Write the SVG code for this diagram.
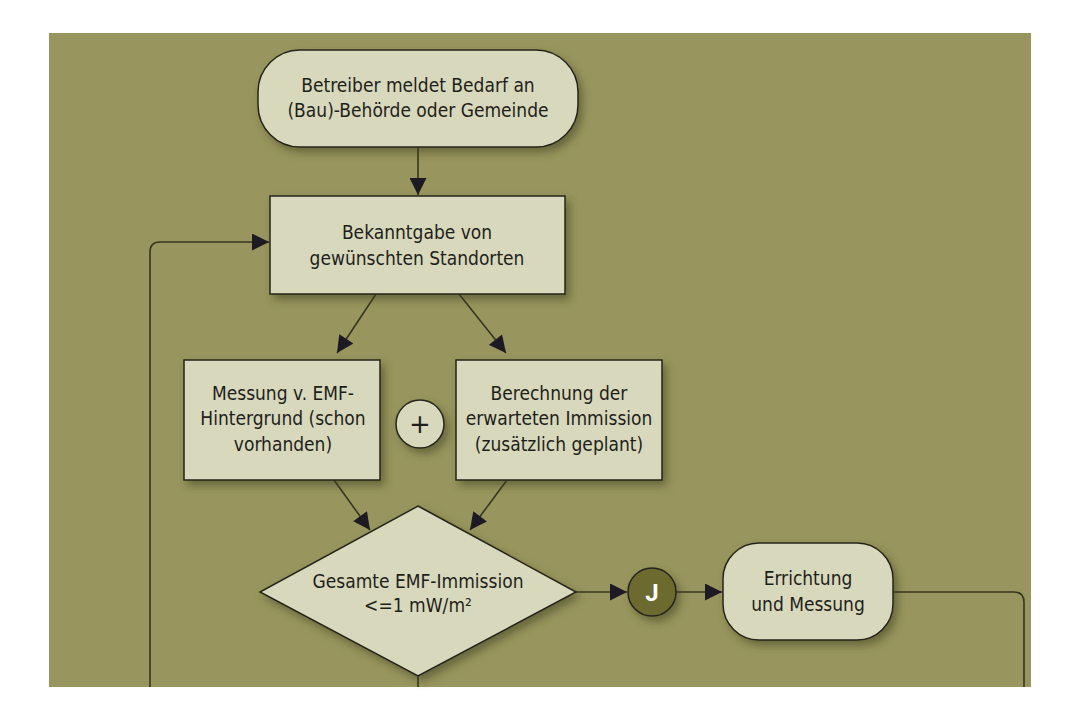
<svg xmlns="http://www.w3.org/2000/svg" width="1080" height="720" viewBox="0 0 1080 720">
<style>
.box{fill:#d8d8bd;stroke:#25241a;stroke-width:1.5;filter:url(#sh)}
.t{font-family:"DejaVu Sans Condensed","DejaVu Sans",sans-serif;font-stretch:condensed;font-size:19px;fill:#1f1f1a;text-anchor:middle}
.c{fill:none;stroke:#37361f;stroke-width:1.6}
</style>
<defs>
<filter id="sh" x="-20%" y="-20%" width="150%" height="150%">
<feDropShadow dx="4" dy="5" stdDeviation="4" flood-color="#3d3c1c" flood-opacity="0.55"/>
</filter>
<marker id="ar" viewBox="0 0 10 10" refX="10" refY="5" markerWidth="18" markerHeight="17" markerUnits="userSpaceOnUse" orient="auto">
<path d="M0,0 L10,5 L0,10 z" fill="#1e1a24"/>
</marker>
</defs>
<rect width="1080" height="720" fill="#ffffff"/>
<rect x="49" y="33" width="982" height="654" fill="#98965e"/>

<g id="connectors">
<path class="c" d="M418,147 L418,195" marker-end="url(#ar)"/>
<path class="c" d="M150,687 L150,252 Q150,242 160,242 L269,242" marker-end="url(#ar)"/>
<path class="c" d="M376,294 L337,353" marker-end="url(#ar)"/>
<path class="c" d="M459,294 L506,353" marker-end="url(#ar)"/>
<path class="c" d="M334,480 L370,530" marker-end="url(#ar)"/>
<path class="c" d="M507,480 L470,530" marker-end="url(#ar)"/>
<path class="c" d="M418,675 L418,687"/>
<path class="c" d="M576,592 L627,592" marker-end="url(#ar)"/>
<path class="c" d="M676,592 L722,592" marker-end="url(#ar)"/>
<path class="c" d="M893,592 L1014,592 Q1024,592 1024,602 L1024,687"/>
</g>

<g id="start">
<rect class="box" x="258" y="50" width="320" height="97" rx="42"/>
<text class="t" x="418" y="92">Betreiber meldet Bedarf an</text>
<text class="t" x="418" y="117">(Bau)-Behörde oder Gemeinde</text>
</g>

<g id="bekanntgabe">
<rect class="box" x="270" y="196" width="295" height="98"/>
<text class="t" x="417" y="239">Bekanntgabe von</text>
<text class="t" x="417" y="265">gewünschten Standorten</text>
</g>

<g id="messung">
<rect class="box" x="184" y="360" width="196" height="120"/>
<text class="t" x="283" y="400">Messung v. EMF-</text>
<text class="t" x="283" y="425">Hintergrund (schon</text>
<text class="t" x="283" y="451">vorhanden)</text>
</g>

<g id="plus">
<circle class="box" cx="420" cy="424" r="24"/>
<text x="420" y="433" font-family="DejaVu Sans,sans-serif" font-size="26" fill="#1f1f1a" text-anchor="middle">+</text>
</g>

<g id="berechnung">
<rect class="box" x="456" y="360" width="206" height="120"/>
<text class="t" x="559" y="400">Berechnung der</text>
<text class="t" x="559" y="425">erwarteten Immission</text>
<text class="t" x="559" y="451">(zusätzlich geplant)</text>
</g>

<g id="decision">
<polygon class="box" points="418,506 576,592 418,676 260,592"/>
<text class="t" x="418" y="588">Gesamte EMF-Immission</text>
<text class="t" x="418" y="612">&lt;=1 mW/m²</text>
</g>

<g id="j">
<circle cx="652" cy="592" r="24" fill="#6c6a2f" stroke="#25241a" stroke-width="1.5" filter="url(#sh)"/>
<text x="652" y="601" font-family="Roboto,'DejaVu Sans',sans-serif" font-weight="bold" font-size="24" fill="#ffffff" text-anchor="middle">J</text>
</g>

<g id="errichtung">
<rect class="box" x="723" y="543" width="170" height="97" rx="36"/>
<text class="t" x="808" y="585">Errichtung</text>
<text class="t" x="808" y="611">und Messung</text>
</g>
</svg>
